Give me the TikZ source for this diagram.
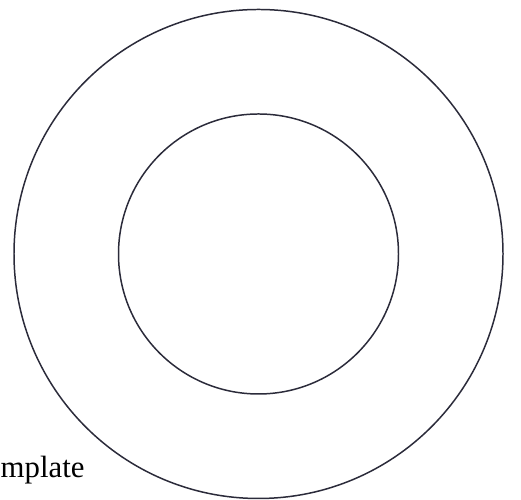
\documentclass[tikz,border=0pt]{standalone}
\usepackage{fontspec}
\setmainfont{Liberation Serif}
\usetikzlibrary{positioning}
\definecolor{cink}{HTML}{2B2B3A}
\tikzset{
  every picture/.style={line width=0.85pt},
  ring/.style={draw=cink, circle, inner sep=0pt, minimum size=#1},
  label/.style={font=\fontsize{17.5}{20}\selectfont, anchor=base west, inner sep=0pt},
}
\begin{document}
\begin{tikzpicture}
  \useasboundingbox (0,0) rectangle (10.42,10);
  \node[ring=9.78cm] (outer) at (5.17,4.92) {};
  \node[ring=5.60cm] (inner) at (outer.center) {};
  \node[label] (caption) at (0,0.45) {mplate};
\end{tikzpicture}
\end{document}
